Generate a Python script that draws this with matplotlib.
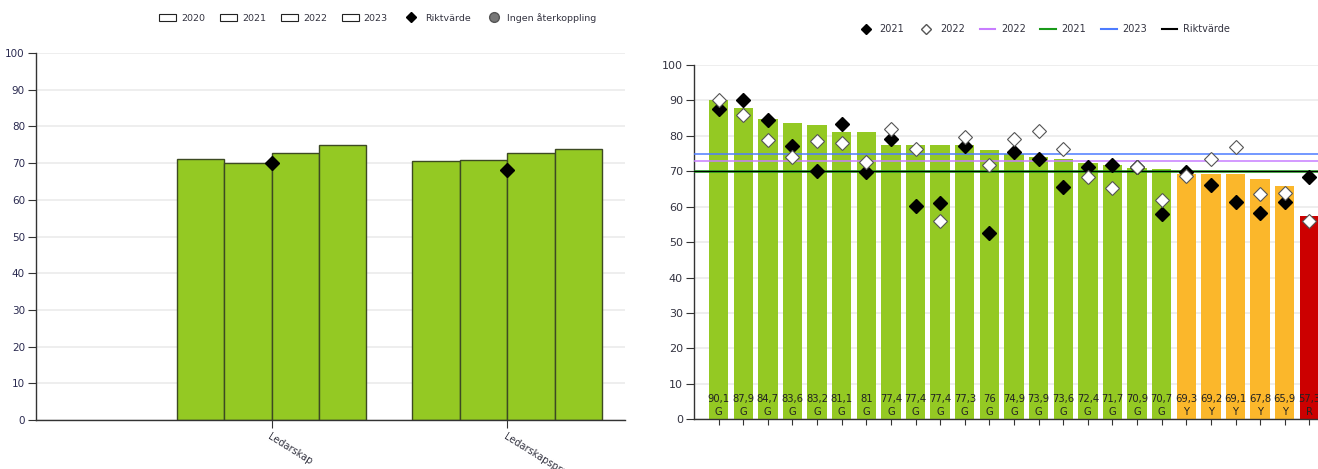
import matplotlib
matplotlib.use("Agg")
import matplotlib.pyplot as plt
from matplotlib.patches import Patch
from matplotlib.lines import Line2D
import numpy as np

# ---------------- data: left panel ----------------
left_categories = ["Ledarskap", "Ledarskapsprofil"]
left_years = ["2020", "2021", "2022", "2023"]
left_2020 = [71.0, 70.5]
left_2021 = [70.0, 70.8]
left_2022 = [72.7, 72.7]
left_2023 = [74.8, 73.8]
left_riktvarde = [70, 68]

# ---------------- data: right panel ----------------
right_values = [90.1, 87.9, 84.7, 83.6, 83.2, 81.1, 81, 77.4, 77.4, 77.4, 77.3, 76,
                74.9, 73.9, 73.6, 72.4, 71.7, 70.9, 70.7, 69.3, 69.2, 69.1, 67.8, 65.9, 57.3]
right_grades = ["G"] * 19 + ["Y"] * 5 + ["R"]
right_2021 = [87.5, 90.0, 84.5, 77.1, 70.2, 83.3, 69.8, 79.1, 60.3, 61.0, 77.1, 52.7,
              75.4, 73.5, 65.6, 71.1, 71.7, 71.3, 58.0, 69.9, 66.0, 61.4, 58.3, 61.4, 68.5]
right_2022 = [90.2, 86.0, 78.9, 74.1, 78.6, 78.1, 72.7, 81.9, 76.2, 56.1, 79.6, 71.8,
              79.0, 81.3, 76.2, 68.3, 65.2, 71.1, 61.9, 68.8, 73.5, 76.8, 63.6, 64.0, 56.1]
line_2022 = 73
line_2021 = 70
line_2023 = 75
line_riktvarde = 70

# ---------------- style ----------------
W, H = 1318, 469
fig = plt.figure(figsize=(W / 100, H / 100), dpi=100)
plt.rcParams['font.family'] = ['DejaVu Sans']

GREEN = '#94c923'
YELLOW = '#fbb72b'
RED = '#cc0000'
GRID = '#ebebeb'
TXT = '#333340'
grade_colors = {"G": GREEN, "Y": YELLOW, "R": RED}


def px_axes(x0, x1, ytop, ybot):
    return fig.add_axes([x0 / W, (H - ybot) / H, (x1 - x0) / W, (ybot - ytop) / H])


# ---------------- left panel ----------------
axL = px_axes(36, 625, 53, 420)
xpos = np.arange(1, len(left_categories) + 1)
bw = 0.201
series = [left_2020, left_2021, left_2022, left_2023]
for i, s in enumerate(series):
    axL.bar(xpos + (i - 1.5) * bw, s, width=bw, color=GREEN, edgecolor='#3d4a22',
            linewidth=1.0, zorder=2)
axL.plot(xpos, left_riktvarde, linestyle='none', marker='D', markersize=7,
         color='black', zorder=4)
axL.set_xlim(0, 2.5)
axL.set_ylim(0, 100)
axL.set_yticks(np.arange(0, 101, 10))
axL.yaxis.grid(True, color=GRID, linewidth=1.2, zorder=0)
axL.set_axisbelow(True)
for sp in ['top', 'right']:
    axL.spines[sp].set_visible(False)
for sp in ['left', 'bottom']:
    axL.spines[sp].set_color('#333333')
    axL.spines[sp].set_linewidth(1.0)
axL.tick_params(axis='y', length=6, color='#333333', labelsize=7.5, labelcolor='#2a2a50', pad=2)
axL.set_xticks(xpos)
axL.set_xticklabels(left_categories, rotation=-32, ha='left', va='top',
                    rotation_mode='anchor', fontsize=7, color=TXT)
axL.tick_params(axis='x', length=6, color='#333333', pad=2)

left_handles = [Patch(facecolor='white', edgecolor='#222222', linewidth=0.8, label=y) for y in left_years]
left_handles.append(Line2D([], [], linestyle='none', marker='D', markersize=5, color='black', label='Riktvärde'))
left_handles.append(Line2D([], [], linestyle='none', marker='o', markersize=7, color='#777777',
                           markeredgecolor='#555555', label='Ingen återkoppling'))
fig.legend(handles=left_handles, loc='center', bbox_to_anchor=(378 / W, 1 - 18 / H),
           ncol=6, frameon=False, fontsize=6.8, handlelength=1.8, handleheight=0.8,
           columnspacing=1.6, handletextpad=0.5, labelcolor=TXT)

# ---------------- right panel ----------------
axR = px_axes(694, 1334, 65, 419.3)
n = len(right_values)
xr = np.arange(n)
colors = [grade_colors[g] for g in right_grades]
axR.bar(xr, right_values, width=0.79, color=colors, zorder=2)
for x, v, g in zip(xr, right_values, right_grades):
    lab = f"{v:g}".replace('.', ',')
    axR.annotate(f"{lab}\n{g}", (x, 0), xytext=(0, 2), textcoords='offset points',
                 ha='center', va='bottom', fontsize=7.2, color='#222222',
                 linespacing=1.35, zorder=5, annotation_clip=False)

axR.axhline(line_2022, color='#c87dff', linewidth=1.1, zorder=3)
axR.axhline(line_2021, color='#1a9a1a', linewidth=1.8, zorder=3)
axR.axhline(line_2023, color='#4d7cff', linewidth=1.1, zorder=3)
axR.axhline(line_riktvarde, color='black', linewidth=0.8, zorder=3)

axR.plot(xr, right_2021, linestyle='none', marker='D', markersize=7.5, color='black', zorder=4)
axR.plot(xr, right_2022, linestyle='none', marker='D', markersize=7.5, markerfacecolor='white',
         markeredgecolor='#555555', markeredgewidth=0.8, zorder=4.5)

axR.set_xlim(-1, n)
axR.set_ylim(0, 100)
axR.set_yticks(np.arange(0, 101, 10))
axR.yaxis.grid(True, color=GRID, linewidth=1.2, zorder=0)
axR.set_axisbelow(True)
for sp in ['top', 'right']:
    axR.spines[sp].set_visible(False)
for sp in ['left', 'bottom']:
    axR.spines[sp].set_color('#333333')
    axR.spines[sp].set_linewidth(1.0)
axR.tick_params(axis='y', length=6, color='#333333', labelsize=8, labelcolor=TXT, pad=2)
axR.set_xticks(xr)
axR.set_xticklabels([])
axR.tick_params(axis='x', length=4, color='#333333')

right_handles = [
    Line2D([], [], linestyle='none', marker='D', markersize=5, color='black', label='2021'),
    Line2D([], [], linestyle='none', marker='D', markersize=5, markerfacecolor='white',
           markeredgecolor='#555555', label='2022'),
    Line2D([], [], color='#c87dff', linewidth=1.5, label='2022'),
    Line2D([], [], color='#1a9a1a', linewidth=1.5, label='2021'),
    Line2D([], [], color='#4d7cff', linewidth=1.5, label='2023'),
    Line2D([], [], color='black', linewidth=1.5, label='Riktvärde'),
]
fig.legend(handles=right_handles, loc='center', bbox_to_anchor=(1044 / W, 1 - 29 / H),
           ncol=6, frameon=False, fontsize=7, handlelength=1.6, columnspacing=1.5,
           handletextpad=0.6, labelcolor=TXT)

fig.savefig("out.png", dpi=100)
